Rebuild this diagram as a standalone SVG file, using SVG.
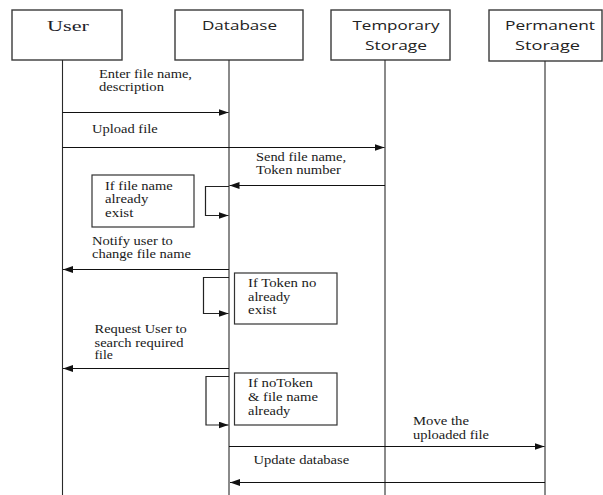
<svg xmlns="http://www.w3.org/2000/svg" width="603" height="495" viewBox="0 0 603 495">
  <style>
    .head { fill: #ffffff; stroke: #3a3a3a; stroke-width: 1.4; }
    .note { fill: #ffffff; stroke: #333333; stroke-width: 1.2; }
    .life { stroke: #2a2a2a; stroke-width: 1.1; fill: none; }
    .msg { stroke: #111111; stroke-width: 1.2; fill: none; }
    .loop { stroke: #222222; stroke-width: 1.2; fill: none; }
    .serif { font-size: 12px; fill: #1a1a1a; }
    .title-serif { font-size: 15px; fill: #1e1e2a; }
    .title-sans { font-family: 'Open Sans', 'Liberation Sans', sans-serif; font-size: 13px; fill: #222222; }
  </style>
  <defs>
    <marker id="arrow" markerUnits="userSpaceOnUse" markerWidth="11" markerHeight="8" refX="10" refY="3.5" orient="auto">
      <path d="M0,0 L10,3.5 L0,7 Z" fill="#111111"/>
    </marker>
  </defs>

  <rect width="603" height="495" fill="#ffffff"/>

  <!-- participants -->
  <g id="user">
    <rect class="head" x="12" y="10" width="110" height="50"/>
    <text class="title-serif" font-family="Liberation Serif, Tinos, Times New Roman, serif" x="47" y="30.5" textLength="42" lengthAdjust="spacingAndGlyphs">User</text>
    <line class="life" x1="62.5" y1="60" x2="62.5" y2="495"/>
  </g>
  <g id="database">
    <rect class="head" x="175" y="10" width="128" height="50"/>
    <text class="title-sans" x="202" y="29.5" textLength="75" lengthAdjust="spacingAndGlyphs">Database</text>
    <line class="life" x1="229" y1="60" x2="229" y2="495"/>
  </g>
  <g id="temporary-storage">
    <rect class="head" x="331" y="10" width="119" height="50"/>
    <text class="title-sans" x="352.5" y="29.5" textLength="87" lengthAdjust="spacingAndGlyphs">Temporary</text>
    <text class="title-sans" x="365" y="50" textLength="62" lengthAdjust="spacingAndGlyphs">Storage</text>
    <line class="life" x1="385" y1="60" x2="385" y2="495"/>
  </g>
  <g id="permanent-storage">
    <rect class="head" x="489" y="10" width="113" height="51"/>
    <text class="title-sans" x="505" y="29.5" textLength="90" lengthAdjust="spacingAndGlyphs">Permanent</text>
    <text class="title-sans" x="515" y="50" textLength="65" lengthAdjust="spacingAndGlyphs">Storage</text>
    <line class="life" x1="545" y1="61" x2="545" y2="495"/>
  </g>

  <!-- condition notes -->
  <g font-family="Liberation Serif, Tinos, Times New Roman, serif">
    <g id="note-file-exists">
      <rect class="note" x="92" y="175" width="102" height="52"/>
      <text class="serif" x="105" y="189.5" textLength="67.7" lengthAdjust="spacingAndGlyphs">If file name</text>
      <text class="serif" x="105" y="203.3" textLength="43.3" lengthAdjust="spacingAndGlyphs">already</text>
      <text class="serif" x="105" y="216.8" textLength="28.3" lengthAdjust="spacingAndGlyphs">exist</text>
    </g>
    <g id="note-token-exists">
      <rect class="note" x="234.5" y="273" width="102.5" height="51"/>
      <text class="serif" x="248" y="286.8" textLength="68.3" lengthAdjust="spacingAndGlyphs">If Token no</text>
      <text class="serif" x="248" y="300.7" textLength="42.3" lengthAdjust="spacingAndGlyphs">already</text>
      <text class="serif" x="248" y="314" textLength="28.3" lengthAdjust="spacingAndGlyphs">exist</text>
    </g>
    <g id="note-both-exist">
      <rect class="note" x="234.5" y="373" width="102.5" height="52"/>
      <text class="serif" x="248" y="387.3" textLength="65" lengthAdjust="spacingAndGlyphs">If noToken</text>
      <text class="serif" x="248" y="400.7" textLength="70" lengthAdjust="spacingAndGlyphs">&amp; file name</text>
      <text class="serif" x="248" y="415" textLength="42.3" lengthAdjust="spacingAndGlyphs">already</text>
    </g>
  </g>

  <!-- messages -->
  <g id="connectors">
    <path class="msg" d="M62.5,112.5 H228.5" marker-end="url(#arrow)"/>
    <path class="msg" d="M62.5,147.5 H384.5" marker-end="url(#arrow)"/>
    <path class="msg" d="M385,185.5 H229.5" marker-end="url(#arrow)"/>
    <path class="loop" d="M229,186.5 H205.5 V215.5 H228.5" marker-end="url(#arrow)"/>
    <path class="msg" d="M229,269.5 H63" marker-end="url(#arrow)"/>
    <path class="loop" d="M229,277.5 H203.5 V313.5 H228.5" marker-end="url(#arrow)"/>
    <path class="msg" d="M229,368.5 H63" marker-end="url(#arrow)"/>
    <path class="loop" d="M229,376.5 H206 V425 H228.5" marker-end="url(#arrow)"/>
    <path class="msg" d="M229,446.5 H544.5" marker-end="url(#arrow)"/>
    <path class="msg" d="M545,482.5 H230" marker-end="url(#arrow)"/>
  </g>

  <!-- message labels -->
  <g id="labels" font-family="Liberation Serif, Tinos, Times New Roman, serif">
    <text class="serif" x="99" y="77.5" textLength="93" lengthAdjust="spacingAndGlyphs">Enter file name,</text>
    <text class="serif" x="99" y="91" textLength="65" lengthAdjust="spacingAndGlyphs">description</text>
    <text class="serif" x="92" y="133.3" textLength="65.7" lengthAdjust="spacingAndGlyphs">Upload file</text>
    <text class="serif" x="256" y="160.5" textLength="90" lengthAdjust="spacingAndGlyphs">Send file name,</text>
    <text class="serif" x="256" y="174" textLength="85" lengthAdjust="spacingAndGlyphs">Token number</text>
    <text class="serif" x="92" y="245" textLength="80.7" lengthAdjust="spacingAndGlyphs">Notify user to</text>
    <text class="serif" x="92" y="258.3" textLength="99" lengthAdjust="spacingAndGlyphs">change file name</text>
    <text class="serif" x="94.5" y="333.3" textLength="92.3" lengthAdjust="spacingAndGlyphs">Request User to</text>
    <text class="serif" x="94.5" y="346.7" textLength="89" lengthAdjust="spacingAndGlyphs">search required</text>
    <text class="serif" x="94.5" y="359.3" textLength="18.3" lengthAdjust="spacingAndGlyphs">file</text>
    <text class="serif" x="413" y="425" textLength="56" lengthAdjust="spacingAndGlyphs">Move the</text>
    <text class="serif" x="413" y="438.5" textLength="76" lengthAdjust="spacingAndGlyphs">uploaded file</text>
    <text class="serif" x="253.5" y="464" textLength="95.7" lengthAdjust="spacingAndGlyphs">Update database</text>
  </g>
</svg>
